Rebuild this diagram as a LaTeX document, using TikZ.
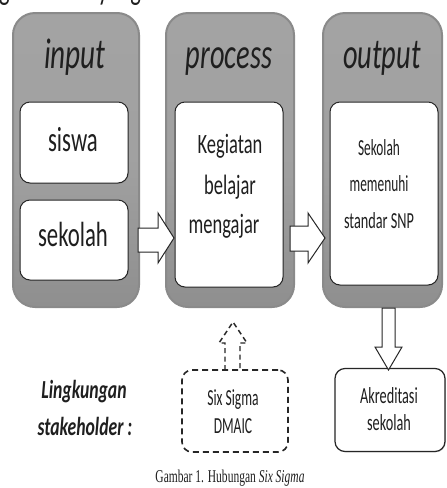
\documentclass[tikz,border=0pt]{standalone}
\usepackage{fontspec}
\setmainfont{Carlito}
\newfontfamily\capfont{Liberation Serif}
\usetikzlibrary{shadows}
% narrow text: horizontal squeeze of the glyphs
\newcommand{\narrowtext}[2][0.64]{\scalebox{#1}[1]{#2}}
\tikzset{
  stage/.style={rectangle, rounded corners=22pt, draw=black!46, line width=2pt,
    top color=black!36, bottom color=black!44, middle color=black!37,
    minimum width=#1, minimum height=294pt, inner sep=0pt},
  stage/.default=128pt,
  lbl/.style={anchor=base, inner sep=0pt, text=black!88},
  title/.style={lbl, font=\fontsize{43}{43}\selectfont\itshape},
  item/.style={rectangle, rounded corners=10pt, draw=black!85, line width=1pt,
    fill=white, inner sep=0pt,
    drop shadow={shadow xshift=0.8pt, shadow yshift=-0.8pt, opacity=0.35}},
  blockarrow/.style={draw=black!85, line width=1pt, fill=white, line join=miter},
  dashline/.style={draw=black!85, line width=1.6pt, dash pattern=on 6pt off 4pt},
}
\begin{document}
\begin{tikzpicture}[x=1pt,y=-1pt]
\useasboundingbox (0,0) rectangle (447,488);
\fill[white] (0,0) rectangle (447,488);

% tail of the previous text line, cut by the top edge
\begin{scope}
\clip (0,0) rectangle (447,10);
\node[lbl, anchor=base west, font=\fontsize{35}{35}\selectfont]
  (prevline) at (-1,-0.5) {\narrowtext{g di dalam yang}};
\end{scope}

% the three stages
\node[stage=126pt] (in)  at (76,160) {};
\node[stage=128pt] (pro) at (230,160) {};
\node[stage=119pt] (out) at (382.5,160) {};

\node[title] (tin)  at (75,68) {\narrowtext[0.68]{input}};
\node[title] (tpro) at (229,68) {\narrowtext[0.66]{process}};
\node[title] (tout) at (382,68) {\narrowtext[0.66]{output}};

% boxes inside the stages
\node[item, minimum width=108pt, minimum height=81pt] (siswa) at (74,142.5) {};
\node[item, minimum width=108pt, minimum height=80pt] (sekolah) at (74,240) {};
\node[item, minimum width=108pt, minimum height=185pt] (keg) at (229,194.5) {};
\node[item, minimum width=108pt, minimum height=183pt] (snp) at (384,193.5) {};

\node[lbl, font=\fontsize{35}{35}\selectfont] (t1) at (73,151) {\narrowtext[0.65]{siswa}};
\node[lbl, font=\fontsize{35}{35}\selectfont] (t2) at (73,246) {\narrowtext[0.65]{sekolah}};

\node[lbl, font=\fontsize{28}{28}\selectfont] (k1) at (230,153) {\narrowtext[0.66]{Kegiatan}};
\node[lbl, font=\fontsize{28}{28}\selectfont] (k2) at (230,194) {\narrowtext[0.66]{belajar}};
\node[lbl, font=\fontsize{28}{28}\selectfont] (k3) at (224,233) {\narrowtext[0.66]{mengajar}};

\node[lbl, font=\fontsize{23}{23}\selectfont] (s1) at (379,155) {\narrowtext[0.58]{Sekolah}};
\node[lbl, font=\fontsize{23}{23}\selectfont] (s2) at (379,191) {\narrowtext[0.58]{memenuhi}};
\node[lbl, font=\fontsize{23}{23}\selectfont] (s3) at (379,228) {\narrowtext[0.62]{standar SNP}};

% block arrows between the stages
\draw[blockarrow] (138,228) -- (158,228) -- (158,213) -- (174,238) -- (158,263)
  -- (158,252) -- (138,252) -- cycle;
\draw[blockarrow] (290,226) -- (308,226) -- (308,213) -- (325,238) -- (308,263)
  -- (308,251) -- (290,251) -- cycle;

% accreditation box and the arrow into it
\node[item, drop shadow={opacity=0}, line width=1.2pt, minimum width=110pt,
  minimum height=83pt] (akr) at (390,410) {};
\node[lbl, font=\fontsize{23}{23}\selectfont] (a1) at (389,403) {\narrowtext[0.62]{Akreditasi}};
\node[lbl, font=\fontsize{23}{23}\selectfont] (a2) at (389,430) {\narrowtext[0.62]{sekolah}};

\draw[blockarrow] (382,308) -- (395,308) -- (395,347) -- (402,347) -- (388.5,370)
  -- (375,347) -- (382,347) -- cycle;

% Six Sigma box with its dashed arrow towards the process
\node[rectangle, rounded corners=10pt, dashline, minimum width=106pt,
  minimum height=82pt] (six) at (235,411) {};
\node[lbl, font=\fontsize{23}{23}\selectfont] (x1) at (233,405) {\narrowtext[0.59]{Six Sigma}};
\node[lbl, font=\fontsize{23}{23}\selectfont] (x2) at (233,433) {\narrowtext[0.59]{DMAIC}};

\draw[dashline, line width=1.4pt, dash pattern=on 5pt off 3.5pt]
  (225,370) -- (225,343) -- (219,343) -- (233,322) -- (247,343)
  -- (240,343) -- (240,370);

\node[lbl, font=\fontsize{26}{26}\selectfont\bfseries\itshape] (l1) at (84,398) {\narrowtext[0.68]{Lingkungan}};
\node[lbl, font=\fontsize{26}{26}\selectfont\bfseries\itshape] (l2) at (85,435) {\narrowtext[0.68]{stakeholder :}};

\node[lbl, font=\capfont\fontsize{18}{18}\selectfont] (cap) at (230,482)
  {\narrowtext[0.64]{Gambar 1. Hubungan \textit{Six Sigma}}};
\end{tikzpicture}
\end{document}
